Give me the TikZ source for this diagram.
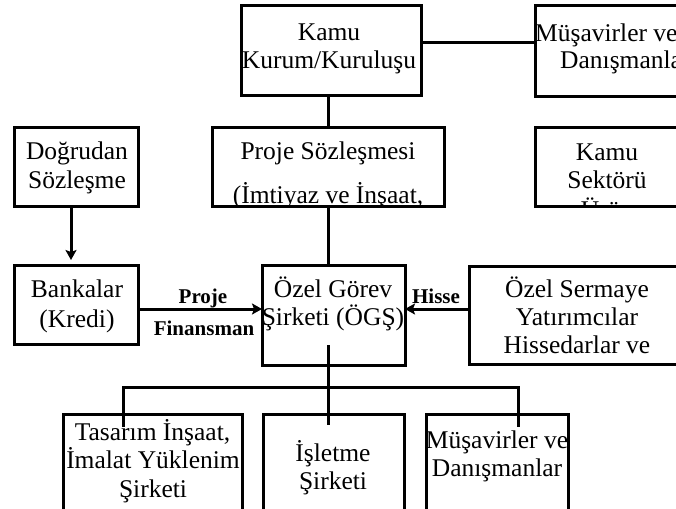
\documentclass[tikz,border=0pt]{standalone}
\usepackage{fontspec}
\setmainfont{Liberation Serif}
\usetikzlibrary{arrows.meta}
\begin{document}
\begin{tikzpicture}[x=1pt,y=-1pt,
  box/.style={draw,line width=3pt,inner sep=0pt,outer sep=0pt},
  txt/.style={inner sep=0pt,anchor=base,font=\fontsize{25.5}{29}\selectfont},
  lbl/.style={inner sep=0pt,anchor=base,font=\fontsize{21}{24}\selectfont\bfseries},
  conn/.style={line width=3pt},
  arr/.style={line width=3pt,-{Stealth[length=10pt,width=11pt,inset=2pt]}}]
\useasboundingbox (0,0) rectangle (676,508);
\clip (0,0) rectangle (676,508);
% boxes
\node[box,minimum width=180pt,minimum height=90pt] (kamu) at (331,51) {};
\node[box,minimum width=160pt,minimum height=91pt] (mus1) at (615,51.5) {};
\node[box,minimum width=124pt,minimum height=79pt] (dog) at (76,166.5) {};
\node[box,minimum width=232pt,minimum height=79pt] (proje) at (328,166.5) {};
\node[box,minimum width=160pt,minimum height=79pt] (kamus) at (615,166.5) {};
\node[box,minimum width=124pt,minimum height=79pt] (bank) at (76,304.5) {};
\node[box,minimum width=143pt,minimum height=100pt] (ogs) at (333.5,315) {};
\node[box,minimum width=230pt,minimum height=98pt] (ozel) at (584,315) {};
\node[box,minimum width=179pt,minimum height=116pt] (tas) at (152.5,472) {};
\node[box,minimum width=141pt,minimum height=116pt] (isl) at (333.5,472) {};
\node[box,minimum width=142pt,minimum height=116pt] (mus2) at (497,472) {};
% texts
\node[txt] (t1) at (329,41) {Kamu};
\node[txt] (t2) at (329,69) {Kurum/Kuruluşu};
\node[txt,anchor=base west] (t3) at (535,42) {Müşavirler ve};
\node[txt,anchor=base west] (t4) at (560,69) {Danışmanlar};
\node[txt] (t5) at (77,159) {Doğrudan};
\node[txt] (t6) at (77,188) {Sözleşme};
\begin{scope}
  \clip (proje.south west) rectangle (proje.north east);
  \node[txt] (t7) at (328,159) {Proje Sözleşmesi};
  \node[txt] (t8) at (328,203) {(İmtiyaz ve İnşaat,};
\end{scope}
\begin{scope}
  \clip (kamus.south west) rectangle (kamus.north east);
  \node[txt] (t9) at (607,160) {Kamu};
  \node[txt] (t10) at (607,188) {Sektörü};
  \node[txt] (t11) at (607,218) {Ürün};
\end{scope}
\node[txt] (t12) at (77,297) {Bankalar};
\node[txt] (t13) at (77,327) {(Kredi)};
\node[txt] (t14) at (333,297) {Özel Görev};
\node[txt] (t15) at (333,325) {Şirketi (ÖGŞ)};
\node[txt] (t16) at (577,297) {Özel Sermaye};
\node[txt] (t17) at (577,325) {Yatırımcılar};
\node[txt] (t18) at (577,353) {Hissedarlar ve};
\node[txt] (t19) at (152.5,440) {Tasarım İnşaat,};
\node[txt] (t20) at (153,468) {İmalat Yüklenim};
\node[txt] (t21) at (153,497) {Şirketi};
\node[txt] (t22) at (333,461) {İşletme};
\node[txt] (t23) at (333,489) {Şirketi};
\node[txt] (t24) at (497,448) {Müşavirler ve};
\node[txt] (t25) at (497,476) {Danışmanlar};
% labels
\node[lbl] (l1) at (203,303) {Proje};
\node[lbl] (l2) at (204,335) {Finansman};
\node[lbl] (l3) at (436,303) {Hisse};
% connectors
\coordinate (ty) at (0,43);
\coordinate (fy) at (0,309);
\draw[conn] (kamu.east |- ty) -- (mus1.west |- ty);
\draw[conn] (proje.north |- kamu.south) -- (proje.north);
\draw[conn] (proje.south) -- (proje.south |- ogs.north);
\draw[arr,shorten >=5pt] (dog.south -| 71,0) -- (bank.north -| 71,0);
\draw[arr] (bank.east |- fy) -- (ogs.west |- fy);
\draw[arr] (ozel.west |- fy) -- (ogs.east |- fy);
\coordinate (ogsin) at (328,345);
\coordinate (bus) at (328,387);
\coordinate (ta) at (123,427);
\coordinate (ia) at (328,425);
\coordinate (ma) at (518,427);
\draw[conn] (ogsin) -- (bus) -- (ia);
\draw[conn] (ta) -- (ta |- bus) -- (ma |- bus) -- (ma);
\end{tikzpicture}
\end{document}
